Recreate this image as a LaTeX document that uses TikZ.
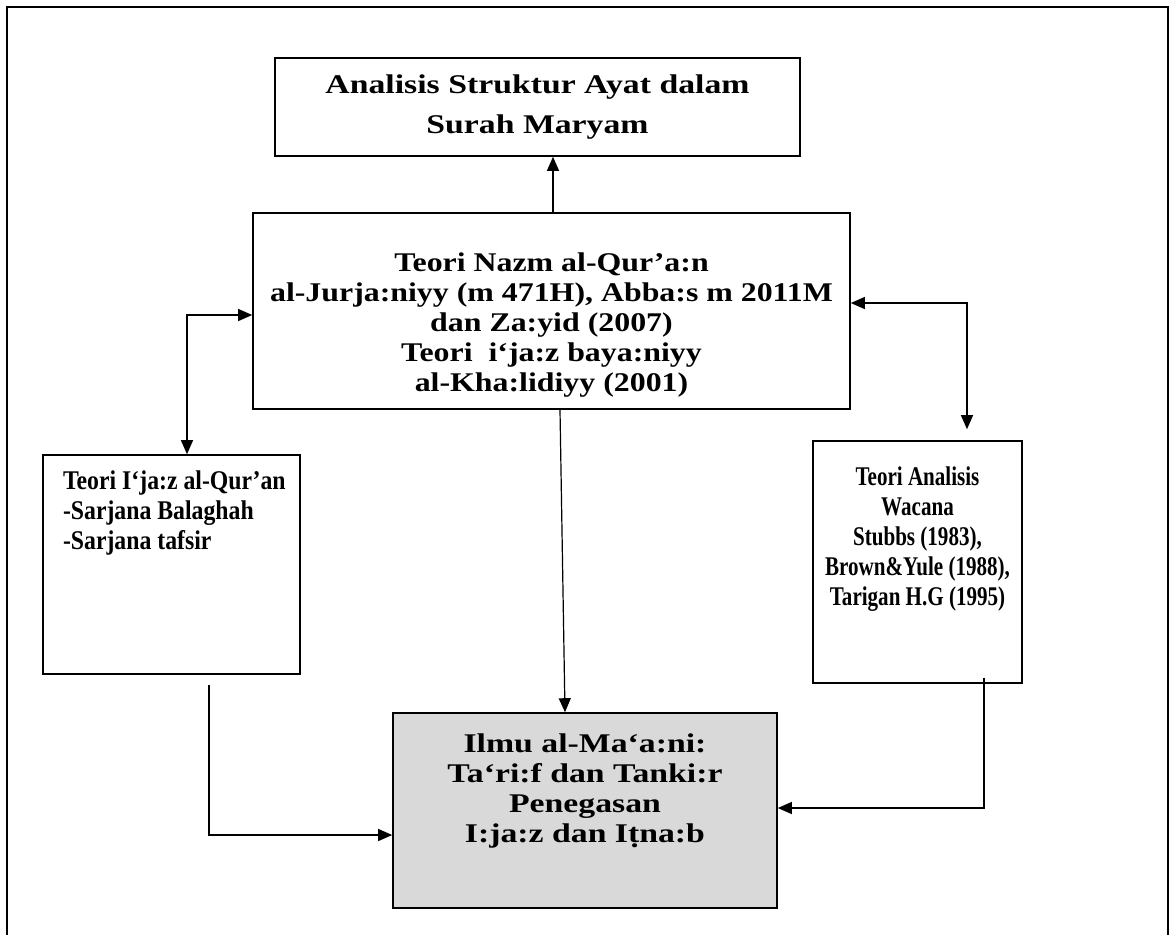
\documentclass[tikz,border=0pt]{standalone}
\usepackage{fontspec}
\setmainfont{Liberation Serif}
\newfontfamily\hurufLebar[FakeStretch=1.25]{Liberation Serif}
\newfontfamily\hurufTengah[FakeStretch=1.18]{Liberation Serif}
\newfontfamily\hurufKiri[FakeStretch=0.88]{Liberation Serif}
\newfontfamily\hurufKanan[FakeStretch=0.78]{Liberation Serif}
\usetikzlibrary{arrows.meta}
\tikzset{>={Triangle[width=6pt,length=7pt]}}
\definecolor{kelabu}{HTML}{D9D9D9}
\tikzset{
  kotak/.style={draw, line width=0.8pt, fill=white, inner sep=0pt,
    font=\bfseries\fontsize{13.5}{15}\selectfont},
  panah/.style={line width=0.6pt}
}

\begin{document}
\begin{tikzpicture}[x=0.5pt, y=-0.5pt]
  \useasboundingbox (0,0) rectangle (1174,934);

  % bingkai luar
  \draw[line width=1.3pt] (7,940) -- (7,7) -- (1168,7) -- (1168,940);

  \node[kotak, minimum width=262.5pt, minimum height=49pt, align=center,
    font=\hurufLebar\bfseries\fontsize{13.5}{20}\selectfont]
  (judul) at (537.5,107) {Analisis Struktur Ayat dalam\\Surah Maryam};

  \node[kotak, minimum width=298.5pt, minimum height=98pt]
  (nazm) at (551.5,311) {\parbox[c][98pt][t]{298.5pt}{\centering
    \hurufTengah\vspace{20pt}%
    Teori Nazm al-Qur’a:n\\
    al-Jurja:niyy (m 471H), Abba:s m 2011M\\
    dan Za:yid (2007)\\
    Teori\ \ i‘ja:z baya:niyy\\
    al-Kha:lidiyy (2001)}};

  \node[kotak, minimum width=128.5pt, minimum height=109.5pt]
  (ijaz) at (171.5,564.5) {\parbox[c][109.5pt][t]{128.5pt}{\raggedright
    \setlength{\leftskip}{10pt}\hurufKiri\vspace{8pt}%
    Teori I‘ja:z al-Qur’an\\
    -Sarjana Balaghah\\
    -Sarjana tafsir}};

  \node[kotak, minimum width=104.5pt, minimum height=121pt]
  (wacana) at (917.5,562) {\parbox[c][121pt][t]{104.5pt}{\centering
    \hurufKanan\vspace{13pt}%
    Teori Analisis\\
    Wacana\\
    Stubbs (1983),\\
    Brown\&Yule (1988),\\
    Tarigan H.G (1995)}};

  \node[kotak, fill=kelabu, minimum width=192pt, minimum height=97.5pt]
  (maani) at (585,810.5) {\parbox[c][97.5pt][t]{192pt}{\centering
    \hurufLebar\vspace{10.5pt}%
    Ilmu al-Ma‘a:ni:\\
    Ta‘ri:f dan Tanki:r\\
    Penegasan\\
    I:ja:z dan Iṭna:b}};

  \coordinate (kiri) at (187,315);
  \coordinate (kanan) at (967,303);
  \coordinate (kiribawah) at (209,835);
  \coordinate (kananbawah) at (984,808);

  \draw[panah, ->] (nazm.north -| 553,0) -- (judul.south -| 553,0);
  \draw[panah, ->] ([xshift=4.25pt]nazm.south) -- ([xshift=-10pt]maani.north);
  \draw[panah, <->] (ijaz.north -| kiri) -- (kiri) -- (kiri -| nazm.west);
  \draw[panah, <->, shorten >=5.5pt] (kanan -| nazm.east) -- (kanan)
    -- (kanan |- wacana.north);
  \draw[panah, ->] ([yshift=-5pt]ijaz.south -| kiribawah) -- (kiribawah)
    -- (kiribawah -| maani.west);
  \draw[panah, ->] ([yshift=3pt]wacana.south -| kananbawah) -- (kananbawah)
    -- (kananbawah -| maani.east);
\end{tikzpicture}
\end{document}
